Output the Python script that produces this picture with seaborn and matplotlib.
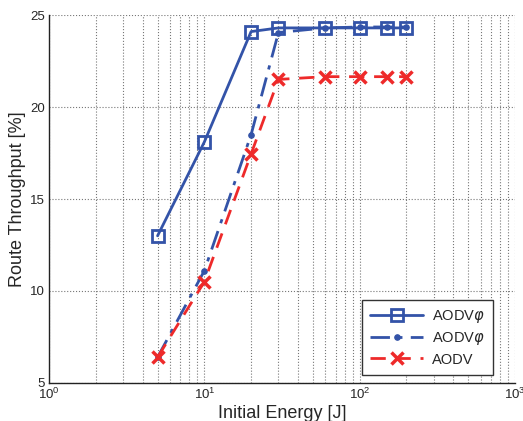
import numpy as np
import pandas as pd
import matplotlib
matplotlib.use("Agg")
import matplotlib.pyplot as plt
import seaborn as sns

# data
energy = [5, 10, 20, 30, 60, 100, 150, 200]
aodv_phi_a = [13.0, 18.1, 24.1, 24.3, 24.3, 24.3, 24.3, 24.3]
aodv_phi_b = [6.4, 11.1, 18.5, 24.05, 24.3, 24.35, 24.35, 24.35]
aodv = [6.4, 10.5, 17.45, 21.5, 21.65, 21.65, 21.65, 21.65]
labels = [r'AODV$\varphi$', r'AODV$\varphi$', 'AODV']

sns.set_style("white")
plt.rcParams['font.family'] = ['Liberation Sans', 'DejaVu Sans']
plt.rcParams['mathtext.fontset'] = 'dejavusans'

df = pd.DataFrame({'energy': energy, 'a': aodv_phi_a, 'b': aodv_phi_b, 'c': aodv})

fig = plt.figure(figsize=(5.23, 4.21), dpi=100)
ax = fig.add_axes([0.0937, 0.0903, 0.891, 0.874])

blue = '#3353a8'
red = '#ee2a2a'
sns.lineplot(data=df, x='energy', y='a', ax=ax, color=blue, lw=2, marker='s',
             markersize=9, markerfacecolor='none', markeredgecolor=blue,
             markeredgewidth=2, label=labels[0])
sns.lineplot(data=df, x='energy', y='b', ax=ax, color=blue, lw=2, marker='.',
             markersize=8, markeredgecolor=blue, label=labels[1])
sns.lineplot(data=df, x='energy', y='c', ax=ax, color=red, lw=2, marker='x',
             markersize=8, markeredgewidth=2.5, markeredgecolor=red, label=labels[2])
ax.lines[1].set_dashes([7, 3, 1.5, 3])
ax.lines[2].set_dashes([5.5, 3.5])

ax.set_xscale('log')
ax.set_xlim(1, 1000)
ax.set_ylim(5, 25)
ax.set_yticks([5, 10, 15, 20, 25])
ax.set_xlabel('Initial Energy [J]', fontsize=13, labelpad=2)
ax.set_ylabel('Route Throughput [%]', fontsize=13, labelpad=3)
ax.tick_params(axis='both', which='both', direction='in', labelsize=9.5, pad=3)
ax.tick_params(which='major', length=5)
ax.tick_params(which='minor', length=3)
ax.grid(True, which='major', axis='both', ls=':', color='#777777', lw=0.8)
ax.grid(True, which='minor', axis='x', ls=':', color='#777777', lw=0.8)
for s in ['top', 'right']:
    ax.spines[s].set_visible(False)
for s in ['left', 'bottom']:
    ax.spines[s].set_color('#222222')
    ax.spines[s].set_linewidth(1.0)

leg = ax.legend(loc='lower right', bbox_to_anchor=(0.958, 0.015), fontsize=10.5,
                fancybox=False, framealpha=1, edgecolor='#333333',
                handlelength=3.6, handletextpad=0.6, borderpad=0.55,
                labelspacing=0.35, borderaxespad=0.2)
leg.get_frame().set_linewidth(1.0)

fig.savefig('out.png', dpi=100)
